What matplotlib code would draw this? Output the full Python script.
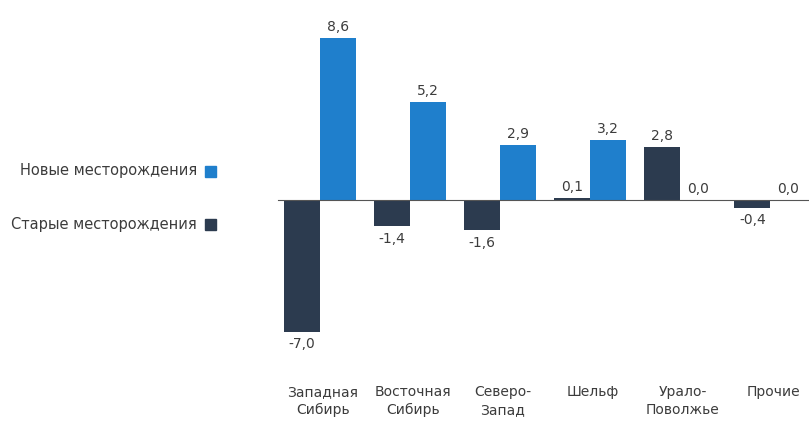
import numpy as np
import matplotlib.pyplot as plt
from matplotlib.patches import Rectangle

plt.rcParams['font.family'] = ['DejaVu Sans']

regions = ['Западная\nСибирь', 'Восточная\nСибирь', 'Северо-\nЗапад',
           'Шельф', 'Урало-\nПоволжье', 'Прочие']
old_fields = [-7.0, -1.4, -1.6, 0.1, 2.8, -0.4]
new_fields = [8.6, 5.2, 2.9, 3.2, 0.0, 0.0]

c_new = '#1f7fcc'
c_old = '#2c3b4f'
txt = '#3c3c3c'

W, H = 809, 421
fig = plt.figure(figsize=(W / 100, H / 100), dpi=100)
ax = fig.add_axes([275 / W, (H - 350) / H, 534 / W, 330 / H])

x = np.arange(len(regions))
w = 0.4
ax.bar(x - w / 2, old_fields, w, color=c_old)
ax.bar(x + w / 2, new_fields, w, color=c_new)
ax.axhline(0, color='#555555', lw=0.8, xmin=0.006)

ax.set_xlim(-0.5, 5.43)
ax.set_ylim(-7.96, 9.55)
ax.axis('off')

def fmt(v):
    return f'{v:.1f}'.replace('.', ',')

for xs, vals in ((x - w / 2, old_fields), (x + w / 2, new_fields)):
    for xi, v in zip(xs, vals):
        if v >= 0:
            ax.annotate(fmt(v), (xi, v), xytext=(0, 3), textcoords='offset points',
                        ha='center', va='bottom', fontsize=10, color=txt)
        else:
            ax.annotate(fmt(v), (xi, v), xytext=(0, -4), textcoords='offset points',
                        ha='center', va='top', fontsize=10, color=txt)

for xi, name in zip(x, regions):
    ax.annotate(name, (xi, 0), xycoords=('data', 'figure pixels'),
                xytext=(xi + 0.03, H - 385), textcoords=('data', 'figure pixels'),
                ha='center', va='top', fontsize=10, color=txt, linespacing=1.35)

# легенда слева
for ypix, label, col in ((171, 'Новые месторождения', c_new),
                         (224, 'Старые месторождения', c_old)):
    fig.text(197 / W, 1 - ypix / H, label, ha='right', va='center',
             fontsize=10.5, color=txt)
    fig.patches.append(Rectangle((205 / W, 1 - (ypix + 6) / H), 11 / W, 11 / H,
                                 transform=fig.transFigure, color=col))

fig.savefig('out.png', dpi=100)
